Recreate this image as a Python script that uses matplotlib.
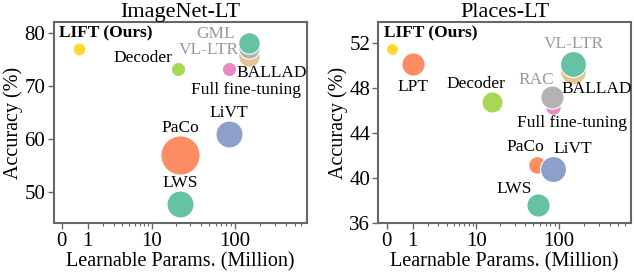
import numpy as np
import matplotlib
matplotlib.use("Agg")
from matplotlib import pyplot as plt
from matplotlib.ticker import FixedLocator, NullFormatter

plt.rcParams['font.family'] = 'serif'
plt.rcParams['font.serif'] = ['Liberation Serif', 'DejaVu Serif']

# ImageNet-LT
in_methods = ["LIFT (Ours)", "Decoder", "Full fine-tuning", "BALLAD", "VL-LTR", "GML", "LiVT", "PaCo", "LWS"]
in_params = [0.6, 21.2, 85.8, 149, 149, 149, 85.8, 22.8, 22.8]
in_acc = [77.0, 73.2, 73.1, 75.7, 77.2, 78.0, 60.9, 57.0, 47.6]
in_size = [85, 105, 105, 240, 240, 240, 380, 800, 380]

# Places-LT
pl_methods = ["LIFT (Ours)", "LPT", "Decoder", "Full fine-tuning", "RAC", "BALLAD", "VL-LTR", "PaCo", "LiVT", "LWS"]
pl_params = [0.16, 1.0, 16.0, 85.8, 82.6, 149, 149, 56.0, 86.5, 57.6]
pl_acc = [51.5, 50.1, 46.8, 46.3, 47.2, 49.5, 50.1, 41.2, 40.8, 37.6]
pl_size = [75, 280, 230, 125, 280, 350, 350, 160, 350, 280]

# Set2 palette
c = {"teal": "#66c2a5", "orange": "#fc8d62", "blue": "#8da0cb", "pink": "#e78ac3",
     "green": "#a6d854", "yellow": "#ffd92f", "tan": "#e5c494", "gray": "#b3b3b3"}
in_colors = [c["yellow"], c["green"], c["pink"], c["tan"], c["gray"], c["teal"], c["blue"], c["orange"], c["teal"]]
pl_colors = [c["yellow"], c["orange"], c["green"], c["pink"], c["gray"], c["tan"], c["teal"], c["orange"], c["blue"], c["teal"]]

# label offsets (points) and text colour
in_offsets = [(19, 11), (-25, 8), (12, -14.8), (16, -12.3), (-29, -1.4), (-24.5, 6.5), (0, 15), (0, 19), (0, 15)]
pl_offsets = [(28, 11), (0, -16), (-11.5, 13), (13.7, -11), (-11, 12), (16.8, -13), (0, 14.8), (-8.4, 12.7), (14, 14.4), (-17.6, 11.8)]
in_gray = ["GML", "VL-LTR"]
pl_gray = ["RAC", "VL-LTR"]

fig = plt.figure(figsize=(6.34, 2.74), dpi=100)
ax1 = fig.add_axes([0.0844, 0.185, 0.400, 0.736])
ax2 = fig.add_axes([0.597, 0.185, 0.398, 0.736])


def draw(ax, methods, params, acc, size, colors, offsets, gray, title, ylim, yticks):
    ax.set_xscale('function', functions=(lambda x: np.log10(np.maximum(x + 1, 1e-6)),
                                         lambda y: 10 ** y - 1))
    for m, p, a, s, col, off in zip(methods, params, acc, size, colors, offsets):
        ax.scatter(p, a, s=s, color=col, edgecolors='white', linewidths=0.8, zorder=3)
        bold = m.startswith("LIFT")
        ax.annotate(m, (p, a), xytext=off, textcoords='offset points',
                    ha='center', va='center', fontsize=12.5,
                    fontweight='bold' if bold else 'normal',
                    color='#999999' if m in gray else 'black', zorder=4)
    ax.set_xlim(-0.2, 700)
    ax.set_ylim(*ylim)
    ax.set_xticks([0, 1, 10, 100])
    ax.set_xticklabels(["0", "1", "10", "100"])
    minor = list(range(2, 10)) + list(range(20, 100, 10)) + list(range(200, 700, 100))
    ax.xaxis.set_minor_locator(FixedLocator(minor))
    ax.xaxis.set_minor_formatter(NullFormatter())
    ax.set_yticks(yticks)
    ax.tick_params(labelsize=15, color='#666666', width=1.0, length=4, pad=2)
    ax.tick_params(which='minor', color='#666666', width=0.8, length=2.5)
    for sp in ax.spines.values():
        sp.set_color('#666666')
        sp.set_linewidth(1.5)
    ax.set_title(title, fontsize=16, pad=2)
    ax.set_xlabel("Learnable Params. (Million)", fontsize=14.5, labelpad=1)
    ax.set_ylabel("Accuracy (%)", fontsize=14.5, labelpad=1)


draw(ax1, in_methods, in_params, in_acc, in_size, in_colors, in_offsets, in_gray,
     "ImageNet-LT", (44, 82.1), [50, 60, 70, 80])
draw(ax2, pl_methods, pl_params, pl_acc, pl_size, pl_colors, pl_offsets, pl_gray,
     "Places-LT", (36, 53.9), [36, 40, 44, 48, 52])

fig.savefig("out.png", dpi=100)
